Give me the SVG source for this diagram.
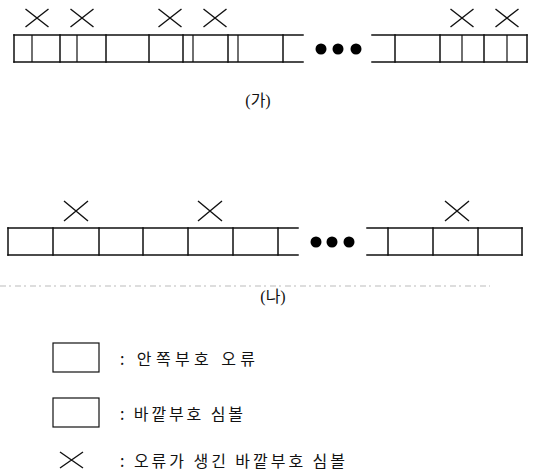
<svg xmlns="http://www.w3.org/2000/svg" width="533" height="475" viewBox="0 0 533 475">
  <style>
    .cell { fill: none; stroke: #111; stroke-width: 1.5; stroke-linecap: square; }
    .thin { fill: none; stroke: #111; stroke-width: 1.2; }
    .mark { fill: none; stroke: #111; stroke-width: 1.4; }
    .dot { fill: #000; }
    .cap { font-family: "Liberation Serif", "Noto Sans CJK KR", serif; font-size: 16px; fill: #111; }
    .leg { font-family: "Noto Sans CJK KR", "Liberation Sans", sans-serif; font-size: 16px; fill: #111; }
    .scan { stroke: #bbb; stroke-width: 1; stroke-dasharray: 6 3 2 4; }
  </style>
  <defs>
    <path id="x-top" class="mark" d="M-11.5,-9 L11.5,9 M-11.5,9 L11.5,-9"/>
    <path id="x-bot" class="mark" d="M-12,-10 L12,10 M-12,10 L12,-10"/>
  </defs>

  <!-- (가): sequence with burst errors -->
  <g id="row-a">
    <path class="cell" d="M14,35 H303 M14,62 H303 M372,35 H527 M372,62 H527"/>
    <path class="cell" d="M14,35 V62 M60,35 V62 M106,35 V62 M149,35 V62 M183,35 V62 M228,35 V62 M283,35 V62 M395,35 V62 M440,35 V62 M484,35 V62 M527,35 V62"/>
    <path class="thin" d="M32,35 V62 M77,35 V62 M193,35 V62 M238,35 V62 M462,35 V62 M507,35 V62"/>
    <circle class="dot" cx="321" cy="49" r="5.5"/>
    <circle class="dot" cx="338" cy="49" r="5.5"/>
    <circle class="dot" cx="356" cy="49" r="5.5"/>
    <use href="#x-top" x="37" y="18"/>
    <use href="#x-top" x="82" y="18"/>
    <use href="#x-top" x="170" y="18"/>
    <use href="#x-top" x="215" y="18"/>
    <use href="#x-top" x="462" y="18"/>
    <use href="#x-top" x="507" y="18"/>
    <text class="cap" x="258" y="106" text-anchor="middle">(가)</text>
  </g>

  <!-- (나): sequence with scattered errors -->
  <g id="row-b">
    <path class="cell" d="M8,228 H298 M8,255 H298 M367,228 H522 M367,255 H522"/>
    <path class="cell" d="M8,228 V255 M53,228 V255 M99,228 V255 M143,228 V255 M188,228 V255 M233,228 V255 M278,228 V255 M388,228 V255 M433,228 V255 M478,228 V255 M522,228 V255"/>
    <circle class="dot" cx="316" cy="242" r="5.5"/>
    <circle class="dot" cx="332" cy="242" r="5.5"/>
    <circle class="dot" cx="349" cy="242" r="5.5"/>
    <use href="#x-bot" x="76" y="211"/>
    <use href="#x-bot" x="210" y="211"/>
    <use href="#x-bot" x="457" y="211"/>
    <line class="scan" x1="0" y1="286" x2="490" y2="286"/>
    <text class="cap" x="273" y="302" text-anchor="middle">(나)</text>
  </g>

  <!-- legend -->
  <g id="legend-inner">
    <rect class="thin" x="53" y="343" width="46" height="29"/>
    <text class="leg" x="120" y="365" textLength="135">: 안쪽부호 오류</text>
  </g>
  <g id="legend-outer">
    <rect class="thin" x="53" y="398" width="46" height="29"/>
    <text class="leg" x="120" y="420" textLength="123">: 바깥부호 심볼</text>
  </g>
  <g id="legend-error">
    <path class="mark" d="M60,452 L83,468 M60,468 L83,452"/>
    <text class="leg" x="120" y="467" textLength="225">: 오류가 생긴 바깥부호 심볼</text>
  </g>
</svg>
